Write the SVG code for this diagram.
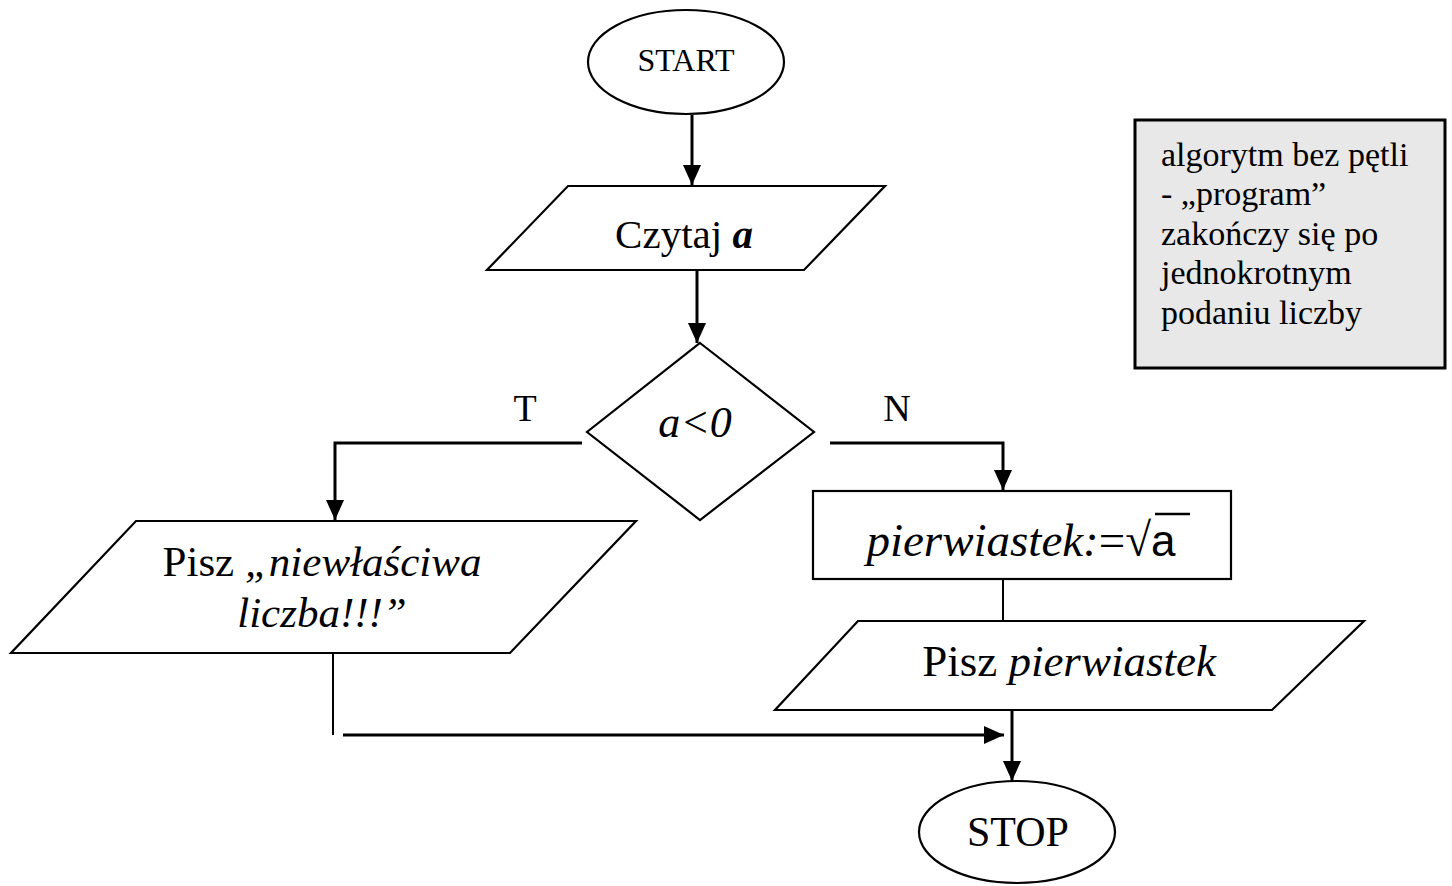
<svg xmlns="http://www.w3.org/2000/svg" width="1452" height="886" viewBox="0 0 1452 886">
  <defs>
    <marker id="head" viewBox="0 0 20 20" refX="20" refY="10" markerWidth="20" markerHeight="20" orient="auto" markerUnits="userSpaceOnUse">
      <path d="M0,1 L20,10 L0,19 Z" fill="#000"/>
    </marker>
    <style>
      .shape { fill: #fff; stroke: #000; stroke-width: 2.2; }
      .flow { fill: none; stroke: #000; stroke-width: 3; }
      .thin { fill: none; stroke: #000; stroke-width: 2; }
      .txt { font-family: "Liberation Serif", "Times New Roman", serif; fill: #000; }
      .it { font-style: italic; }
    </style>
  </defs>
  <rect width="1452" height="886" fill="#fff"/>

  <g id="connectors">
    <line class="flow" x1="692" y1="115" x2="692" y2="185" marker-end="url(#head)"/>
    <line class="flow" x1="697" y1="270" x2="697" y2="343" marker-end="url(#head)"/>
    <polyline class="flow" points="582,443 335,443 335,520" marker-end="url(#head)"/>
    <polyline class="flow" points="830,443 1003,443 1003,490" marker-end="url(#head)"/>
    <line class="thin" x1="1003" y1="579" x2="1003" y2="621"/>
    <line class="thin" x1="333" y1="653" x2="333" y2="735"/>
    <line class="flow" x1="343" y1="735" x2="1004" y2="735" marker-end="url(#head)"/>
    <line class="flow" x1="1012" y1="710" x2="1012" y2="781" marker-end="url(#head)"/>
  </g>

  <g id="start">
    <ellipse class="shape" cx="686" cy="62" rx="98" ry="52"/>
    <text class="txt" x="686" y="64" font-size="32" text-anchor="middle" dominant-baseline="middle">START</text>
  </g>

  <g id="read-a">
    <polygon class="shape" points="568,186 885,186 804,270 487,270"/>
    <text class="txt" x="684" y="248" font-size="41" text-anchor="middle">Czytaj <tspan font-weight="bold" font-style="italic">a</tspan></text>
  </g>

  <g id="decision">
    <polygon class="shape" points="700,343 814,432 700,520 587,432"/>
    <text class="txt it" x="695" y="437" font-size="44" text-anchor="middle">a&lt;0</text>
    <text class="txt" x="525" y="421" font-size="38" text-anchor="middle">T</text>
    <text class="txt" x="897" y="421" font-size="38" text-anchor="middle">N</text>
  </g>

  <g id="write-error">
    <polygon class="shape" points="136,521 636,521 510,653 11,653"/>
    <text class="txt" x="322" y="576" font-size="43" text-anchor="middle">Pisz <tspan class="it">„niewłaściwa</tspan></text>
    <text class="txt it" x="322" y="627" font-size="43" text-anchor="middle">liczba!!!”</text>
  </g>

  <g id="compute">
    <rect class="shape" x="813" y="491" width="418" height="88"/>
    <text class="txt" x="1021" y="556" font-size="47" text-anchor="middle"><tspan class="it">pierwiastek:</tspan>=√<tspan font-family="Liberation Sans, sans-serif" font-style="normal" font-size="44">a</tspan></text>
    <line x1="1155" y1="514" x2="1190" y2="514" stroke="#000" stroke-width="2.5"/>
  </g>

  <g id="write-result">
    <polygon class="shape" points="858,621 1364,621 1272,710 775,710"/>
    <text class="txt" x="1069" y="676" font-size="45" text-anchor="middle">Pisz <tspan class="it">pierwiastek</tspan></text>
  </g>

  <g id="stop">
    <ellipse class="shape" cx="1017" cy="832" rx="98" ry="51"/>
    <text class="txt" x="1018" y="846" font-size="42" text-anchor="middle">STOP</text>
  </g>

  <g id="note">
    <rect x="1135" y="120" width="310" height="248" fill="#e8e8e8" stroke="#000" stroke-width="3"/>
    <text class="txt" font-size="34">
      <tspan x="1161" y="166">algorytm bez pętli</tspan>
      <tspan x="1161" y="205">- „program”</tspan>
      <tspan x="1161" y="245">zakończy się po</tspan>
      <tspan x="1161" y="284">jednokrotnym</tspan>
      <tspan x="1161" y="324">podaniu liczby</tspan>
    </text>
  </g>
</svg>
